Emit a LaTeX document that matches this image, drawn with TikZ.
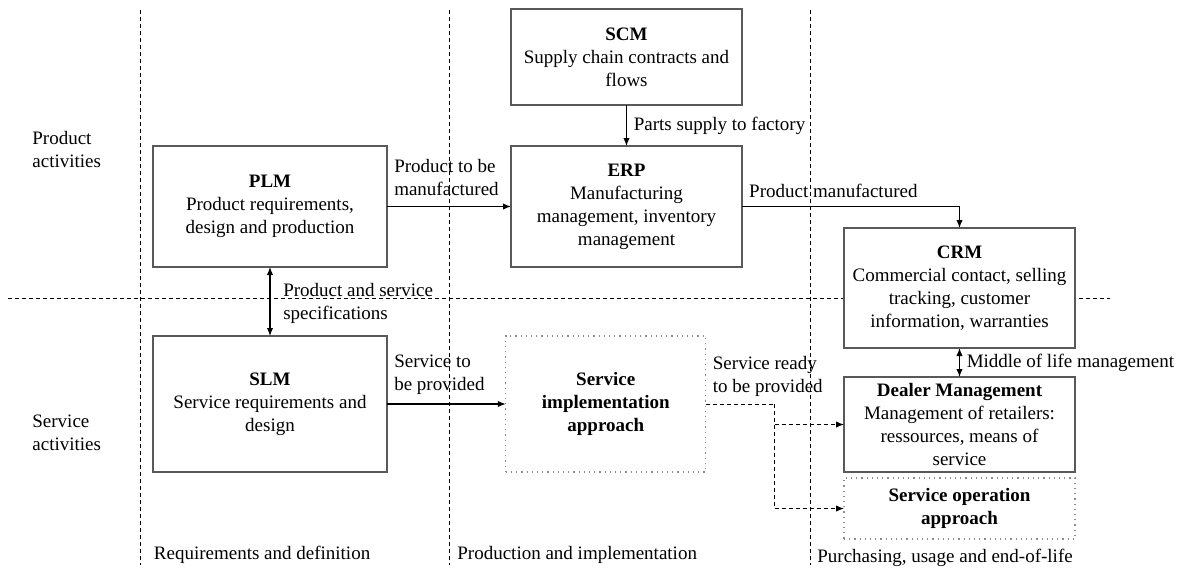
\documentclass[tikz,border=0pt]{standalone}
\usepackage{fontspec}
\setmainfont{Liberation Serif}
\usetikzlibrary{arrows.meta, positioning}

\begin{document}
\begin{tikzpicture}[
  x=0.5pt, y=-0.5pt,
  font=\fontsize{9.5}{11.5}\selectfont,
  box/.style={rectangle, draw=black!65, line width=0.6pt, fill=white, inner sep=0pt, outer sep=0pt, align=center, minimum width=115.5pt},
  todo/.style={box, draw=black!45, dotted},
  lane/.style={align=left, inner sep=0pt, anchor=west},
  divider/.style={dash pattern=on 2pt off 1.5pt, line width=0.5pt},
  arr/.style={-{Latex[length=4pt, width=3.2pt]}, line width=0.6pt},
  twoway/.style={{Latex[length=4pt, width=3.2pt]}-{Latex[length=4pt, width=3.2pt]}, line width=0.6pt},
  darr/.style={arr, line width=0.5pt, dash pattern=on 2pt off 1.5pt}
]
\useasboundingbox (0,0) rectangle (1184,570);

% phase and activity dividers
\draw[divider] (140,10) -- (140,565);
\draw[divider] (449,10) -- (449,565);
\draw[divider] (810,10) -- (810,565);
\draw[divider] (8,298) -- (1110,298);

\node[lane] (prodlane) at (32,149.5) {Product\\activities};
\node[lane] (servlane) at (32,433) {Service\\activities};
\node[lane] (reqphase) at (153.5,555) {Requirements and definition};
\node[lane] (prodphase) at (457,555) {Production and implementation};
\node[lane] (usephase) at (817,558) {Purchasing, usage and end-of-life};

\node[box, minimum height=48pt] (scm) at (626.5,57) {\textbf{SCM}\\Supply chain contracts and\\flows};
\node[box, minimum height=60.5pt] (erp) at (626.5,206.5) {\textbf{ERP}\\Manufacturing\\management, inventory\\management};
\node[box, minimum width=117pt, minimum height=60.5pt] (plm) at (270,206.5) {\textbf{PLM}\\Product requirements,\\design and production};
\node[box, minimum width=117pt, minimum height=68pt] (slm) at (270,404) {\textbf{SLM}\\Service requirements and\\design};
\node[todo, minimum width=100pt, minimum height=68pt] (impl) at (605.75,404) {\textbf{Service}\\\textbf{implementation}\\\textbf{approach}};
\node[box, minimum height=60pt] (crm) at (959.5,288) {\textbf{CRM}\\Commercial contact, selling\\tracking, customer\\information, warranties};
\node[box, minimum height=47.5pt] (dealer) at (959.5,424.5) {\textbf{Dealer Management}\\Management of retailers:\\ressources, means of\\service};
\node[todo, minimum height=30.5pt] (svcop) at (959.5,508.5) {\textbf{Service operation}\\\textbf{approach}};

\draw[arr] (plm) -- node[pos=0, above right, align=left, yshift=2pt] {Product to be\\manufactured} (erp);
\draw[arr] (scm) -- node[right] {Parts supply to factory} (erp);
\draw[arr] (erp) -| node[pos=0.21, above, yshift=1pt] {Product manufactured} (crm);
\draw[twoway] (plm) -- node[right, xshift=3pt, yshift=-1pt, align=left] {Product and service\\specifications} (slm);
\draw[twoway] (crm) -- node[right] {Middle of life management} (dealer);
\draw[arr] (slm) -- node[pos=0, above right, align=left, yshift=1pt] {Service to\\be provided} (impl);

\coordinate (fork) at (774,404);
\draw[darr, -] (impl) -- node[pos=0, above right, align=left] {Service ready\\to be provided} (fork);
\draw[darr] (fork) |- (dealer);
\draw[darr] (fork) |- (svcop);

\end{tikzpicture}
\end{document}
